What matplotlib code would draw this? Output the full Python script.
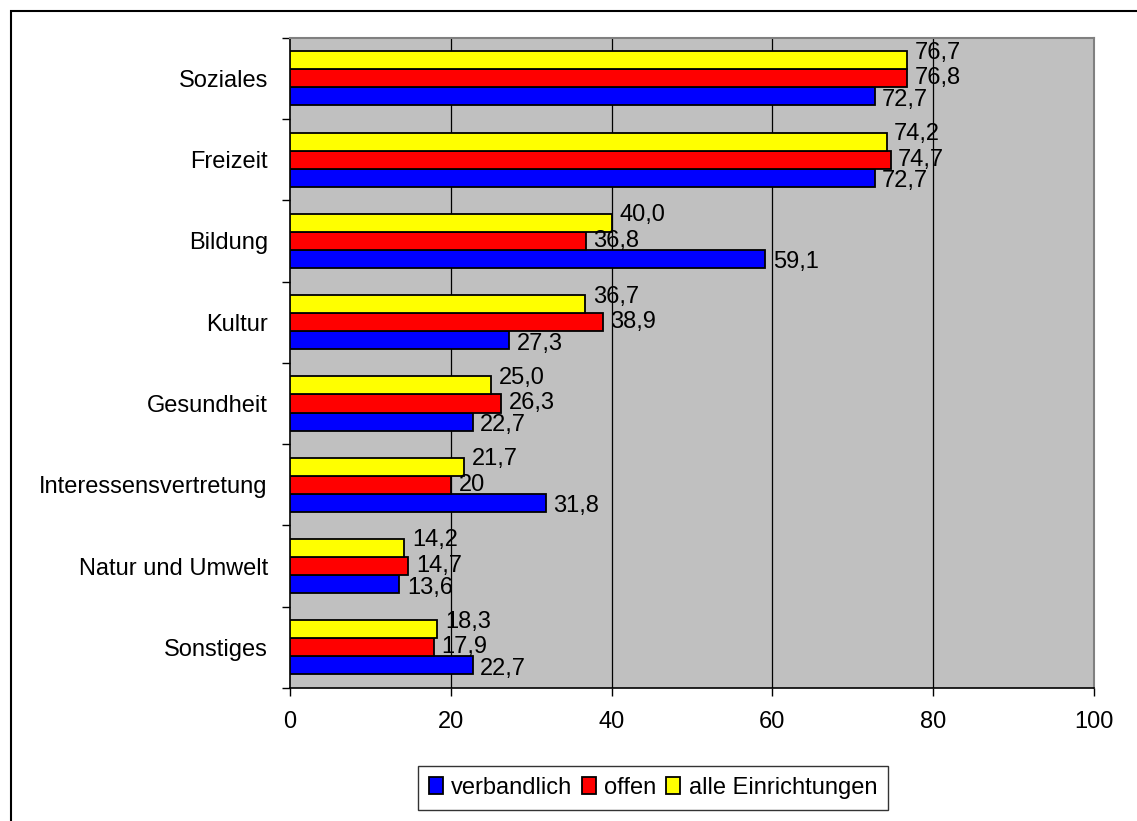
import matplotlib
matplotlib.use("Agg")
import matplotlib.pyplot as plt
import matplotlib.patches as mpatches
import numpy as np

plt.rcParams['font.family'] = ['Liberation Sans', 'DejaVu Sans']

categories = ["Soziales", "Freizeit", "Bildung", "Kultur", "Gesundheit",
              "Interessensvertretung", "Natur und Umwelt", "Sonstiges"]
verbandlich = [72.7, 72.7, 59.1, 27.3, 22.7, 31.8, 13.6, 22.7]
offen = [76.8, 74.7, 36.8, 38.9, 26.3, 20.0, 14.7, 17.9]
alle = [76.7, 74.2, 40.0, 36.7, 25.0, 21.7, 14.2, 18.3]
verbandlich_labels = ["72,7", "72,7", "59,1", "27,3", "22,7", "31,8", "13,6", "22,7"]
offen_labels = ["76,8", "74,7", "36,8", "38,9", "26,3", "20", "14,7", "17,9"]
alle_labels = ["76,7", "74,2", "40,0", "36,7", "25,0", "21,7", "14,2", "18,3"]
series_names = ["verbandlich", "offen", "alle Einrichtungen"]
xticks = [0, 20, 40, 60, 80, 100]

FS = 17
fig = plt.figure(figsize=(11.37, 8.21), dpi=100)
ax = fig.add_axes([290/1137, 133/821, 804/1137, 650.3/821])
ax.set_facecolor("#C0C0C0")

y = np.arange(len(categories))
bh = 1/4.5
series = [
    (verbandlich, verbandlich_labels, "#0000FF", +bh, -2.5),
    (offen, offen_labels, "#FF0000", 0.0, 0),
    (alle, alle_labels, "#FFFF00", -bh, 5.5),
]
handles = []
for vals, labs, col, off, dy in series:
    bars = ax.barh(y + off, vals, height=bh, color=col, edgecolor="black",
                   linewidth=1.3, zorder=3)
    handles.append(bars)
    for yy, v, lab in zip(y + off, vals, labs):
        ax.annotate(lab, xy=(v, yy), xytext=(5.5, dy), textcoords="offset points",
                    ha="left", va="center", fontsize=FS, color="black", zorder=5)

ax.set_xlim(0, 100)
ax.set_ylim(len(categories) - 0.5, -0.5)
ax.set_xticks(xticks)
ax.set_xticklabels([str(t) for t in xticks], fontsize=FS)
ax.tick_params(axis="x", direction="out", length=5.5, width=1, pad=11, color="black")
for xv in xticks[1:-1]:
    ax.axvline(xv, color="black", linewidth=0.9, zorder=1)

ax.set_yticks(y)
ax.set_yticklabels(categories, fontsize=FS)
ax.tick_params(axis="y", which="major", length=0, pad=16)
ax.set_yticks(np.arange(-0.5, len(categories) + 0.5, 1), minor=True)
ax.tick_params(axis="y", which="minor", direction="out", length=6, width=1, color="black")

for s in ["left", "bottom"]:
    ax.spines[s].set_color("black")
    ax.spines[s].set_linewidth(1.2)
for s in ["top", "right"]:
    ax.spines[s].set_color("#808080")
    ax.spines[s].set_linewidth(1.5)

leg = fig.legend([handles[0], handles[1], handles[2]], series_names, loc="center",
                 bbox_to_anchor=(653/1137, 1 - 788/821), ncol=3, fontsize=FS,
                 frameon=True, fancybox=False, shadow=False, edgecolor="black",
                 handlelength=0.6, handleheight=0.7, handletextpad=0.35,
                 columnspacing=0.4, borderpad=0.45, borderaxespad=0)
leg.get_frame().set_linewidth(1.0)

border = mpatches.Rectangle((10.5/1137, -0.2), 1.5, 1.2 - 10.5/821,
                            transform=fig.transFigure, fill=False,
                            edgecolor="black", linewidth=1.5, clip_on=False)
fig.patches.append(border)

fig.savefig("out.png", dpi=100, facecolor="white")
